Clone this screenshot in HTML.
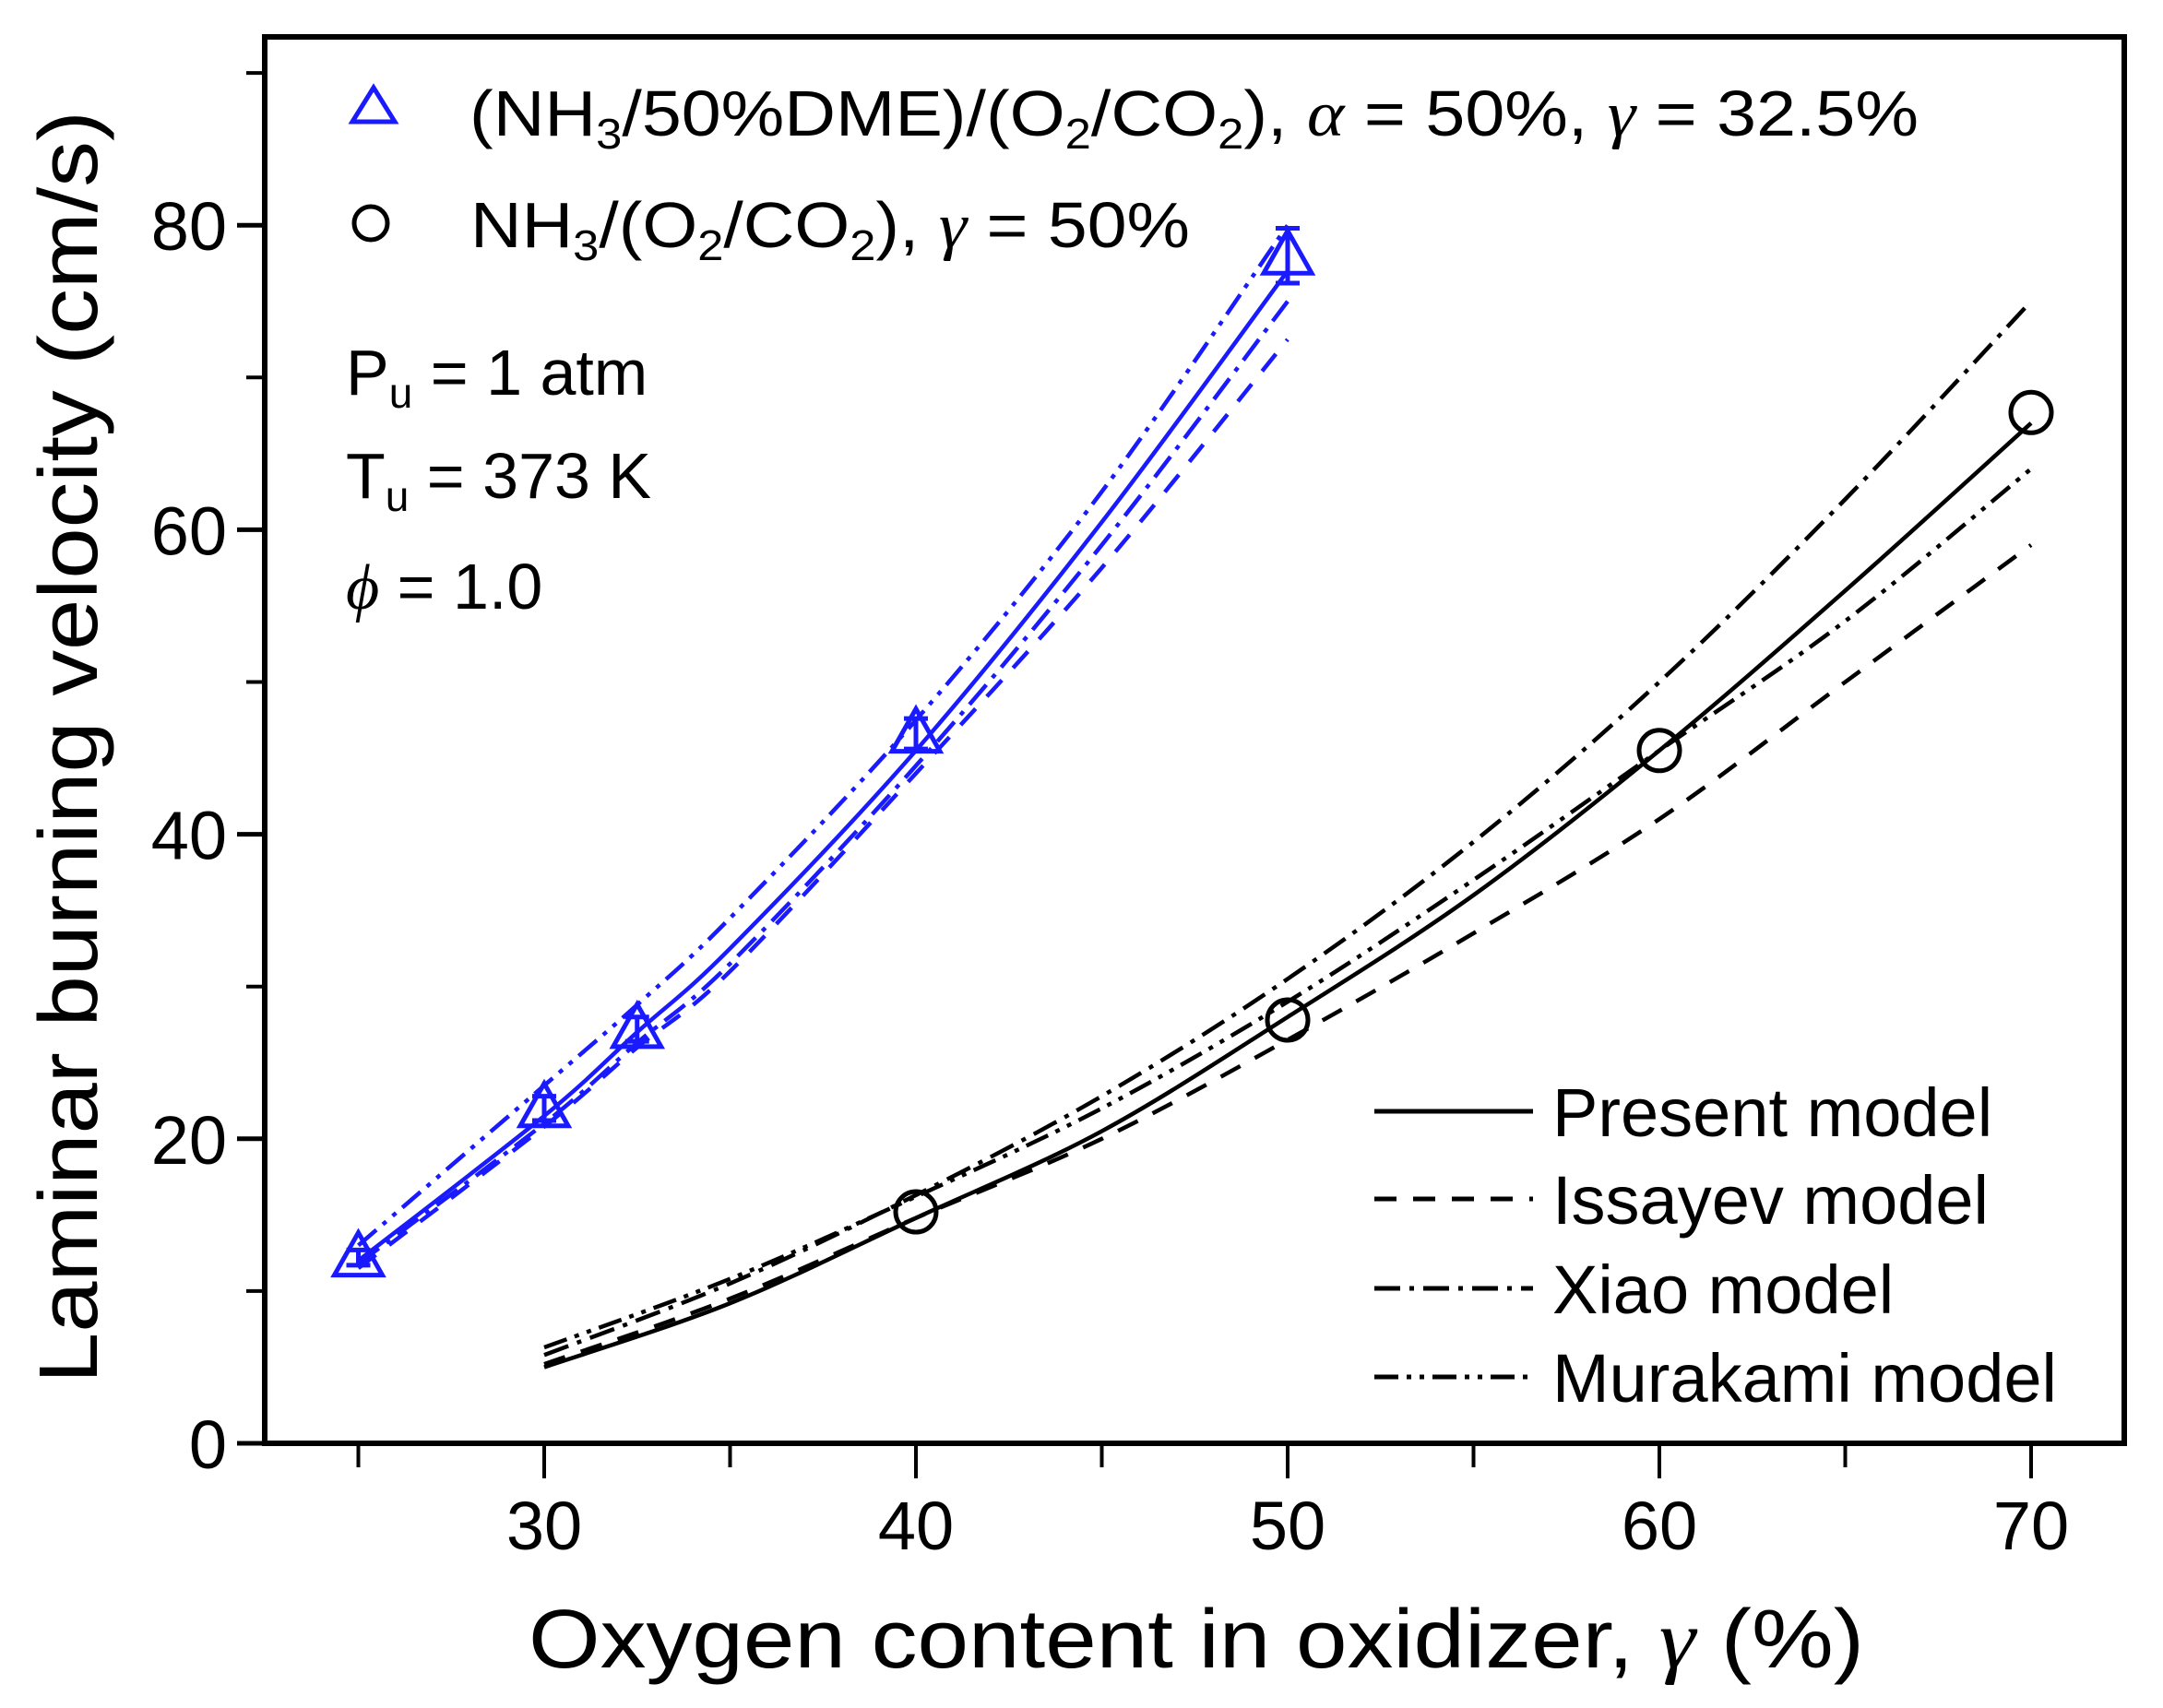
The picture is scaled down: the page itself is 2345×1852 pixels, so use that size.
<!DOCTYPE html>
<html><head><meta charset="utf-8"><style>
html,body{margin:0;padding:0;background:#fff;}
svg{display:block;font-family:"Liberation Sans",Arial,sans-serif;}
</style></head><body>
<svg id="chart" width="2345" height="1852" viewBox="0 0 2345 1852" xmlns="http://www.w3.org/2000/svg">
<rect x="0" y="0" width="2345" height="1852" fill="#fff"/>
<g id="plot"></g>
<text transform="translate(105,810) rotate(-90)" text-anchor="middle" font-size="90" textLength="1380" lengthAdjust="spacingAndGlyphs">Laminar burning velocity (cm/s)</text>
<text x="1297" y="1808" text-anchor="middle" font-size="90" textLength="1448" lengthAdjust="spacingAndGlyphs">Oxygen content in oxidizer, <tspan font-style="italic" font-family="Liberation Serif">γ</tspan> (%)</text>
<g font-size="70">
<text x="509" y="147" textLength="1571" lengthAdjust="spacingAndGlyphs">(NH<tspan font-size="46" dy="14">3</tspan><tspan dy="-14">/50%DME)/(O</tspan><tspan font-size="46" dy="14">2</tspan><tspan dy="-14">/CO</tspan><tspan font-size="46" dy="14">2</tspan><tspan dy="-14">), </tspan><tspan font-style="italic" font-family="Liberation Serif">α</tspan> = 50%, <tspan font-style="italic" font-family="Liberation Serif">γ</tspan> = 32.5%</text>
<text x="510" y="268" textLength="780" lengthAdjust="spacingAndGlyphs">NH<tspan font-size="46" dy="14">3</tspan><tspan dy="-14">/(O</tspan><tspan font-size="46" dy="14">2</tspan><tspan dy="-14">/CO</tspan><tspan font-size="46" dy="14">2</tspan><tspan dy="-14">), </tspan><tspan font-style="italic" font-family="Liberation Serif">γ</tspan> = 50%</text>
</g>
<g font-size="70">
<text x="375" y="428">P<tspan font-size="46" dy="14">u</tspan><tspan dy="-14"> = 1 atm</tspan></text>
<text x="375" y="540">T<tspan font-size="46" dy="14">u</tspan><tspan dy="-14"> = 373 K</tspan></text>
<text x="375" y="660"><tspan font-style="italic" font-family="Liberation Serif">ϕ</tspan> = 1.0</text>
</g>
</svg>
<script>
const xTicks=[30,40,50,60,70];
const yTicks=[0,20,40,60,80];
const blueX=[25,30,32.5,40,50];
const blueY=[12.2,22.0,27.2,46.6,78.0];
const blueErr=[0.5,0.8,0.8,1.0,1.8];
const blackX=[40,50,60,70];
const blackY=[15.2,27.8,45.5,67.7];
const blueLineX=[25,30,32.5,35,40,45,50];
const bluePresent=[12.0,21.5,27.0,32.5,45.5,60.5,77.0];
const blueIssayev=[11.5,20.8,26.0,31.0,44.0,57.5,72.5];
const blueXiao=[11.8,21.0,26.3,31.5,44.5,59.0,75.0];
const blueMurakami=[13.0,23.5,28.8,34.5,47.5,62.5,80.0];
const blackLineX=[30,35,40,45,50,55,60,65,70];
const blackPresent=[5.0,9.2,14.8,20.5,28.0,36.0,45.5,56.0,67.0];
const blackIssayev=[5.2,9.5,14.8,20.0,26.5,33.5,41.0,50.0,59.0];
const blackXiao=[5.8,10.5,16.3,22.8,30.5,39.5,50.0,62.0,75.0];
const blackMurakami=[6.3,10.8,16.2,22.0,29.0,37.0,45.5,54.0,64.0];
const modelNames=['Present model','Issayev model','Xiao model','Murakami model'];

const NS='http://www.w3.org/2000/svg';
const X0=590,XS=40.3,Y0=1565,YS=16.51;
const L=287,R=2303,T=40,B=1565;
function sx(v){return X0+(v-30)*XS;}
function sy(v){return Y0-v*YS;}
const plot=document.getElementById('plot');
function mk(tag,attrs,parent){const e=document.createElementNS(NS,tag);for(const k in attrs)e.setAttribute(k,attrs[k]);(parent||plot).appendChild(e);return e;}
const dashes=['',"24 18","28 10 5 10","26 9 5 9 5 9"];
function smooth(xs,ys){
  const p=xs.map((x,i)=>[sx(x),sy(ys[i])]);
  let d='M'+p[0][0]+','+p[0][1];
  for(let i=0;i<p.length-1;i++){
    const p0=p[Math.max(i-1,0)],p1=p[i],p2=p[i+1],p3=p[Math.min(i+2,p.length-1)];
    const c1=[p1[0]+(p2[0]-p0[0])/6,p1[1]+(p2[1]-p0[1])/6];
    const c2=[p2[0]-(p3[0]-p1[0])/6,p2[1]-(p3[1]-p1[1])/6];
    d+=' C'+c1[0]+','+c1[1]+' '+c2[0]+','+c2[1]+' '+p2[0]+','+p2[1];
  }
  return d;
}
const frame=mk('rect',{x:L,y:T,width:R-L,height:B-T,fill:'none',stroke:'#000','stroke-width':6});


for(let v=25;v<=70;v+=5){
  const major=v%10===0;
  const t=mk('line',{x1:sx(v),x2:sx(v),y1:B,y2:B+(major?38:26),stroke:'#000','stroke-width':4});
  
  
}
xTicks.forEach(v=>{
  const t=mk('text',{x:sx(v),y:1680,'text-anchor':'middle','font-size':74});
  t.textContent=v;
  
  
});
for(let v=0;v<=90;v+=10){
  const major=v%20===0;
  const t=mk('line',{x1:L,x2:L-(major?30:20),y1:sy(v),y2:sy(v),stroke:'#000','stroke-width':major?5:4});
  
  
}
yTicks.forEach(v=>{
  const t=mk('text',{x:246,y:sy(v)+27,'text-anchor':'end','font-size':74});
  t.textContent=v;
  
  
});
const blueSets=[bluePresent,blueIssayev,blueXiao,blueMurakami];
const blackSets=[blackPresent,blackIssayev,blackXiao,blackMurakami];
blueSets.forEach((ys,i)=>{
  const p=mk('path',{d:smooth(blueLineX,ys),fill:'none',stroke:'#1a1aff','stroke-width':4.5,'stroke-dasharray':dashes[i]});
  
  
});
blackSets.forEach((ys,i)=>{
  const p=mk('path',{d:smooth(blackLineX,ys),fill:'none',stroke:'#000','stroke-width':4.5,'stroke-dasharray':dashes[i]});
  
  
});
blueX.forEach((x,i)=>{
  const cx=sx(x),cy=sy(blueY[i]);
  const e=blueErr[i];
  const eb=mk('path',{d:`M${cx},${sy(blueY[i]+e)}V${sy(blueY[i]-e)}M${cx-13},${sy(blueY[i]+e)}H${cx+13}M${cx-13},${sy(blueY[i]-e)}H${cx+13}`,stroke:'#1a1aff','stroke-width':5,fill:'none'});
  
  
  const m=mk('polygon',{points:`${cx},${cy-27} ${cx-26},${cy+19} ${cx+26},${cy+19}`,fill:'none',stroke:'#1a1aff','stroke-width':5});
  
  
});
blackX.forEach((x,i)=>{
  const c=mk('circle',{cx:sx(x),cy:sy(blackY[i]),r:22,fill:'none',stroke:'#000','stroke-width':5});
  
  
});
const lt=mk('polygon',{points:'405,95 382,132 428,132',fill:'none',stroke:'#1a1aff','stroke-width':5});


const lc=mk('circle',{cx:402,cy:242,r:18,fill:'none',stroke:'#000','stroke-width':5});


const rowsY=[1205,1300,1397,1493];
modelNames.forEach((n,i)=>{
  const l=mk('line',{x1:1490,x2:1662,y1:rowsY[i],y2:rowsY[i],stroke:'#000','stroke-width':5,'stroke-dasharray':dashes[i]});
  
  
  const t=mk('text',{x:1683,y:rowsY[i]+27,'font-size':74});
  t.textContent=n;
  
  
});
</script>
</body></html>
